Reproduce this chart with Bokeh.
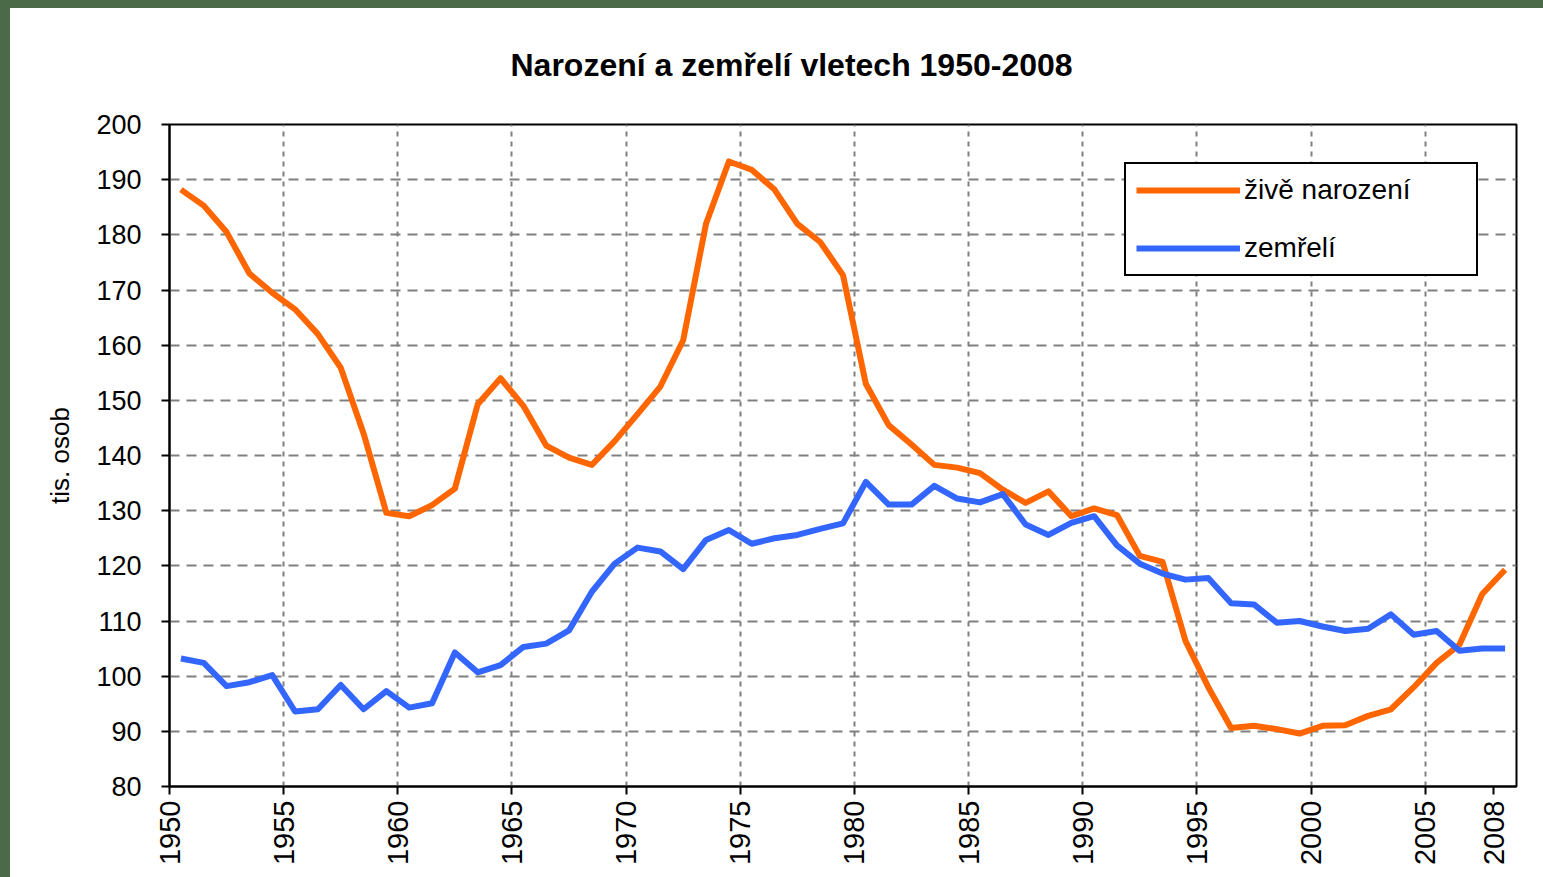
from bokeh.plotting import figure
from bokeh.models import Range1d, FixedTicker, ColumnDataSource, GlobalInlineStyleSheet
from bokeh.transform import dodge
from bokeh.embed import file_html
from bokeh.resources import INLINE

# ---- data (thousands of persons) ----
years = list(range(1950, 2009))
births = [188.2, 185.3, 180.5, 173.0, 169.5, 166.5, 162.0, 155.9, 144.0, 129.6,
          129.0, 131.0, 134.0, 149.3, 154.0, 149.0, 141.8, 139.6, 138.3, 142.6,
          147.5, 152.5, 160.9, 182.0, 193.3, 191.8, 188.2, 182.0, 178.7, 172.7,
          153.0, 145.5, 142.0, 138.3, 137.8, 136.8, 133.8, 131.4, 133.5, 129.0,
          130.4, 129.2, 121.8, 120.7, 106.4, 98.0, 90.6, 91.0, 90.4, 89.6,
          91.0, 91.1, 92.8, 94.0, 98.0, 102.4, 105.7, 114.9, 119.3]
deaths = [103.2, 102.4, 98.2, 98.9, 100.2, 93.6, 94.0, 98.4, 94.0, 97.3,
          94.3, 95.1, 104.3, 100.7, 102.0, 105.3, 105.9, 108.3, 115.3, 120.4,
          123.3, 122.6, 119.4, 124.7, 126.5, 124.0, 125.0, 125.6, 126.7, 127.7,
          135.2, 131.1, 131.1, 134.5, 132.2, 131.5, 133.0, 127.5, 125.6, 127.8,
          129.0, 123.7, 120.4, 118.6, 117.5, 117.8, 113.2, 113.0, 109.7, 110.0,
          109.0, 108.2, 108.6, 111.2, 107.5, 108.2, 104.6, 105.0, 105.0]
x_ticks = [1950, 1955, 1960, 1965, 1970, 1975, 1980, 1985, 1990, 1995, 2000, 2005, 2008]
y_ticks = list(range(80, 201, 10))
title_text = "Narození a zemřelí vletech 1950-2008"
y_label = "tis. osob"
births_label = "živě narození"
deaths_label = "zemřelí"

src = ColumnDataSource(data=dict(year=years, births=births, deaths=deaths))

FONT = "Liberation Sans"

p = figure(width=1535, height=869, output_backend="svg", toolbar_location=None,
           x_range=Range1d(1950, 2009), y_range=Range1d(80, 200),
           min_border_left=169, min_border_right=19, min_border_top=124, min_border_bottom=83,
           background_fill_color="white", border_fill_color="white")

p.stylesheets.append(GlobalInlineStyleSheet(css=
    "html, body { background: #ffffff !important; }"
    "body::before { content: ''; position: fixed; left: 0; top: 0; width: 100%; height: 8px;"
    " background: #4b6a47; z-index: 10000; }"
    "body::after { content: ''; position: fixed; left: 0; top: 0; width: 10px; height: 100%;"
    " background: #4b6a47; z-index: 10000; }"))

# title
p.title.text = title_text
p.title.text_font = FONT
p.title.text_font_size = "32px"
p.title.text_font_style = "bold"
p.title.text_color = "black"
p.title.align = "left"
p.title.offset = 341
p.title.standoff = 84

# frame
p.outline_line_color = "black"
p.outline_line_width = 2

# axes
p.xaxis.ticker = FixedTicker(ticks=x_ticks)
p.yaxis.ticker = FixedTicker(ticks=y_ticks)
for ax in (p.xaxis[0], p.yaxis[0]):
    ax.axis_line_color = "black"
    ax.axis_line_width = 2
    ax.major_tick_line_color = "black"
    ax.major_tick_line_width = 2
    ax.major_tick_in = 0
    ax.major_tick_out = 8
    ax.minor_tick_line_color = None
    ax.major_label_text_font = FONT
    ax.major_label_text_color = "black"
p.xaxis.major_label_text_font_size = "29px"
p.yaxis.major_label_text_font_size = "27px"
p.xaxis.major_label_orientation = 3.14159265 / 2
p.xaxis.major_label_standoff = 6
p.yaxis.major_label_standoff = 20
p.yaxis.axis_label = y_label
p.yaxis.axis_label_text_font = FONT
p.yaxis.axis_label_text_font_size = "26px"
p.yaxis.axis_label_text_font_style = "normal"
p.yaxis.axis_label_text_color = "black"
p.yaxis.axis_label_standoff = 18

# grid
p.xgrid.ticker = FixedTicker(ticks=x_ticks[1:-1])
p.xgrid.grid_line_color = "#808080"
p.xgrid.grid_line_width = 2
p.xgrid.grid_line_dash = "5 5"
p.ygrid.ticker = FixedTicker(ticks=y_ticks)
p.ygrid.grid_line_color = "#808080"
p.ygrid.grid_line_width = 2
p.ygrid.grid_line_dash = "10 7"

xs = dodge("year", 0.5, range=p.x_range)
p.line(x=xs, y="births", source=src, line_color="#FF6600", line_width=6,
       line_join="round", legend_label=births_label)
p.line(x=xs, y="deaths", source=src, line_color="#3366FF", line_width=6,
       line_join="round", legend_label=deaths_label)

lg = p.legend[0]
lg.location = "top_right"
lg.margin = 38
lg.padding = 10
lg.spacing = 26
lg.glyph_width = 104
lg.glyph_height = 28
lg.label_height = 28
lg.label_width = 222
lg.label_standoff = 4
lg.label_text_font = FONT
lg.label_text_font_size = "28px"
lg.label_text_color = "black"
lg.border_line_color = "black"
lg.border_line_alpha = 1.0
lg.border_line_width = 2
lg.background_fill_color = "white"
lg.background_fill_alpha = 1.0

open("out.html", "w").write(file_html(p, INLINE))
